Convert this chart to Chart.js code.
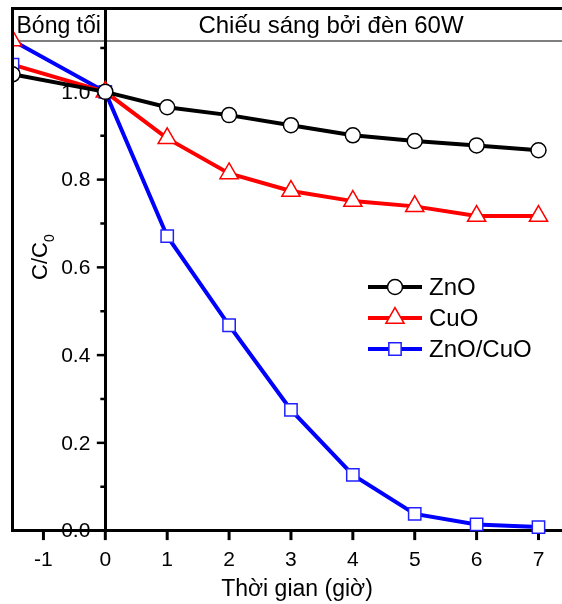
<!DOCTYPE html>
<html>
<head>
<meta charset="utf-8">
<script src="https://cdn.jsdelivr.net/npm/chart.js@4.4.0/dist/chart.umd.min.js"></script>
<style>
    html, body { margin: 0; padding: 0; background: #fff; }
    canvas { display: block; }
</style>
</head>
<body>
<canvas id="myChart" width="562" height="604"></canvas>
<script>
// time in hours, dark phase point sits at the left edge
const hours = [-1.5, 0, 1, 2, 3, 4, 5, 6, 7];
const znoValues = [1.040, 1.000, 0.965, 0.947, 0.924, 0.901, 0.888, 0.878, 0.867];
const cuoValues = [1.062, 1.000, 0.894, 0.814, 0.774, 0.751, 0.739, 0.717, 0.717];
const mixValues = [1.117, 1.000, 0.671, 0.468, 0.275, 0.127, 0.038, 0.014, 0.008];
const seriesNames = ['ZnO', 'CuO', 'ZnO/CuO'];
const xTicks = [-1, 0, 1, 2, 3, 4, 5, 6, 7];
const yTicks = [0.0, 0.2, 0.4, 0.6, 0.8, 1.0];
const yMinorTicks = [0.1, 0.3, 0.5, 0.7, 0.9, 1.1];
const darkLabel = 'Bóng tối';
const lightLabel = 'Chiếu sáng bởi đèn 60W';
const xTitle = 'Thời gian (giờ)';

const FONT = "'Liberation Sans', Arial, sans-serif";

function points(values) {
    return hours.map(function(h, i) { return {x: h, y: values[i]}; });
}

// first marker of CuO and ZnO/CuO use each other's symbol
const cuoStyles = ['rect', 'triangle', 'triangle', 'triangle', 'triangle', 'triangle', 'triangle', 'triangle', 'triangle'];
const cuoMarkerColors = ['#2020ff', '#ff0000', '#ff0000', '#ff0000', '#ff0000', '#ff0000', '#ff0000', '#ff0000', '#ff0000'];
const cuoRadius = [8.7, 10.5, 10.5, 10.5, 10.5, 10.5, 10.5, 10.5, 10.5];
const mixStyles = ['triangle', 'rect', 'rect', 'rect', 'rect', 'rect', 'rect', 'rect', 'rect'];
const mixMarkerColors = ['#ff0000', '#2020ff', '#2020ff', '#2020ff', '#2020ff', '#2020ff', '#2020ff', '#2020ff', '#2020ff'];
const mixRadius = [10.5, 8.7, 8.7, 8.7, 8.7, 8.7, 8.7, 8.7, 8.7];

const edgeClip = {left: 0, top: 0, right: 20, bottom: 20};

const data = {
    datasets: [{
        label: seriesNames[0],
        data: points(znoValues),
        borderColor: '#000000',
        borderWidth: 4,
        pointStyle: 'circle',
        pointRadius: 7.5,
        pointBorderWidth: 1.5,
        pointBorderColor: '#000000',
        pointBackgroundColor: '#ffffff',
        clip: edgeClip
    }, {
        label: seriesNames[1],
        data: points(cuoValues),
        borderColor: '#ff0000',
        borderWidth: 4,
        pointStyle: cuoStyles,
        pointRadius: cuoRadius,
        pointBorderWidth: 1.5,
        pointBorderColor: cuoMarkerColors,
        pointBackgroundColor: '#ffffff',
        clip: edgeClip
    }, {
        label: seriesNames[2],
        data: points(mixValues),
        borderColor: '#0000ff',
        borderWidth: 4,
        pointStyle: mixStyles,
        pointRadius: mixRadius,
        pointBorderWidth: 1.5,
        pointBorderColor: mixMarkerColors,
        pointBackgroundColor: '#ffffff',
        clip: edgeClip
    }]
};

function tickLine(ctx, x1, y1, x2, y2) {
    ctx.beginPath();
    ctx.moveTo(x1, y1);
    ctx.lineTo(x2, y2);
    ctx.stroke();
}

// tick marks, y labels and header line go under the data
const underlay = {
    id: 'underlay',
    beforeDatasetsDraw: function(chart) {
        const ctx = chart.ctx;
        const area = chart.chartArea;
        const xs = chart.scales.x;
        const ys = chart.scales.y;
        const zeroX = xs.getPixelForValue(0);

        ctx.save();
        ctx.strokeStyle = '#000';
        ctx.lineWidth = 1.2;
        tickLine(ctx, area.left, 41, chart.width, 41);

        // x ticks point down
        ctx.lineWidth = 3;
        xTicks.forEach(function(v) {
            const x = xs.getPixelForValue(v);
            tickLine(ctx, x, area.bottom, x, area.bottom + 9.5);
        });

        // y ticks point left from the x = 0 axis
        ctx.lineWidth = 2.5;
        yTicks.forEach(function(v) {
            const y = ys.getPixelForValue(v);
            tickLine(ctx, zeroX, y, zeroX - 8.5, y);
        });
        yMinorTicks.forEach(function(v) {
            const y = ys.getPixelForValue(v);
            tickLine(ctx, zeroX, y, zeroX - 5, y);
        });

        ctx.fillStyle = '#000';
        ctx.font = '21px ' + FONT;
        ctx.textAlign = 'right';
        ctx.textBaseline = 'middle';
        yTicks.forEach(function(v) {
            ctx.fillText(v.toFixed(1), zeroX - 15, ys.getPixelForValue(v) + 1);
        });
        ctx.restore();
    }
};

// frame, header texts, axis titles and legend
const overlay = {
    id: 'overlay',
    afterDraw: function(chart) {
        const ctx = chart.ctx;
        const area = chart.chartArea;

        ctx.save();
        ctx.strokeStyle = '#000';
        ctx.lineWidth = 3;
        ctx.beginPath();
        ctx.moveTo(area.left, area.bottom);
        ctx.lineTo(area.left, area.top);
        ctx.lineTo(chart.width, area.top);
        ctx.stroke();

        ctx.fillStyle = '#000';
        ctx.textBaseline = 'alphabetic';
        ctx.textAlign = 'left';
        ctx.font = '23px ' + FONT;
        ctx.fillText(darkLabel, area.left + 4, 33);
        ctx.textAlign = 'center';
        ctx.font = '24px ' + FONT;
        ctx.fillText(lightLabel, 331, 33);

        // x title
        ctx.font = '23px ' + FONT;
        ctx.fillText(xTitle, 297, 596);

        // y title C/C0
        ctx.save();
        ctx.translate(47, 280);
        ctx.rotate(-Math.PI / 2);
        ctx.textAlign = 'left';
        ctx.font = '22px ' + FONT;
        ctx.fillText('C/C', 0, 0);
        const w = ctx.measureText('C/C').width;
        ctx.font = '14px ' + FONT;
        ctx.fillText('0', w, 7);
        ctx.restore();

        // legend
        const rowY = [287, 318, 349];
        chart.data.datasets.forEach(function(ds, i) {
            const y = rowY[i];
            ctx.strokeStyle = ds.borderColor;
            ctx.lineWidth = 4;
            tickLine(ctx, 368, y, 422, y);
            const style = Array.isArray(ds.pointStyle) ? ds.pointStyle[1] : ds.pointStyle;
            const radius = Array.isArray(ds.pointRadius) ? ds.pointRadius[1] : ds.pointRadius;
            const color = Array.isArray(ds.pointBorderColor) ? ds.pointBorderColor[1] : ds.pointBorderColor;
            ctx.strokeStyle = color;
            ctx.fillStyle = '#fff';
            ctx.lineWidth = 1.5;
            Chart.helpers.drawPoint(ctx, {pointStyle: style, radius: radius, rotation: 0, borderWidth: 1.5}, 395, y);
            ctx.fillStyle = '#000';
            ctx.font = '24px ' + FONT;
            ctx.textAlign = 'left';
            ctx.textBaseline = 'middle';
            ctx.fillText(ds.label, 429, y + 1);
        });
        ctx.restore();
    }
};

const config = {
    type: 'line',
    data: data,
    options: {
        responsive: false,
        animation: false,
        layout: {
            autoPadding: false,
            padding: {left: 12.5, top: 8.5, right: 0, bottom: 0}
        },
        plugins: {
            legend: {display: false},
            tooltip: {enabled: false}
        },
        scales: {
            x: {
                type: 'linear',
                min: -1.5,
                max: 7.38,
                afterBuildTicks: function(axis) {
                    axis.ticks = xTicks.map(function(v) { return {value: v}; });
                },
                afterFit: function(axis) {
                    axis.height = 73.4;
                    axis.paddingLeft = 0;
                    axis.paddingRight = 0;
                },
                ticks: {
                    font: {family: FONT, size: 21},
                    color: '#000',
                    padding: 9,
                    maxRotation: 0
                },
                grid: {display: false},
                border: {color: '#000', width: 3}
            },
            y: {
                type: 'linear',
                min: 0,
                max: 1.19,
                position: {x: 0},
                afterBuildTicks: function(axis) {
                    axis.ticks = yTicks.map(function(v) { return {value: v}; });
                },
                afterFit: function(axis) {
                    axis.paddingTop = 0;
                    axis.paddingBottom = 0;
                },
                ticks: {display: false},
                grid: {display: false},
                border: {color: '#000', width: 3}
            }
        }
    },
    plugins: [underlay, overlay]
};

const myChart = new Chart(document.getElementById('myChart'), config);
</script>
</body>
</html>
